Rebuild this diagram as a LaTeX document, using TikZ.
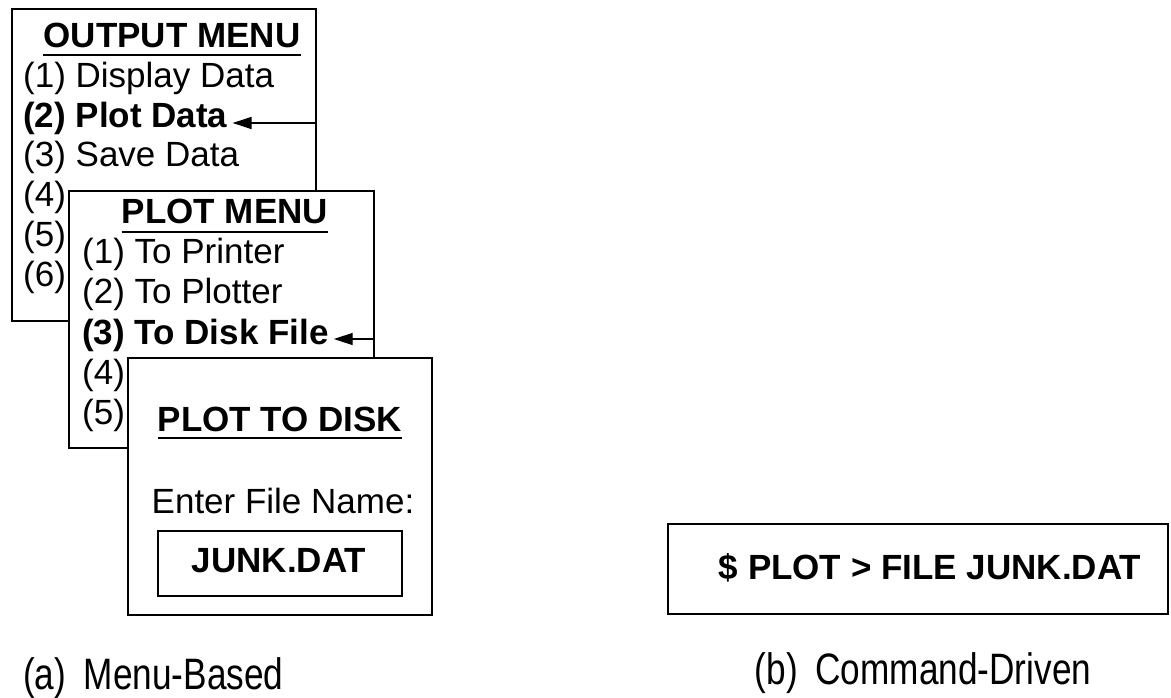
\documentclass[tikz,border=0pt]{standalone}
\usepackage{fontspec}
\setmainfont{Liberation Sans}
\usetikzlibrary{arrows.meta}
\newcommand*\menufont{\fontsize{35}{42}\selectfont}
\newcommand*\legendefont{\fontsize{44}{52}\selectfont}
\tikzset{
  fenetre/.style={draw, fill=white, line width=1.6pt, anchor=north west, inner sep=0pt},
  ligne/.style={anchor=base west, inner sep=0pt, font=\menufont},
  choix/.style={anchor=base west, inner sep=0pt, font=\menufont\bfseries},
  titre/.style={anchor=base, inner sep=0pt, font=\menufont\bfseries},
  souligne/.style={line width=1.6pt},
  fleche/.style={line width=1.4pt, -{Triangle[length=19pt,width=12pt]}},
  legende/.style={inner sep=0pt, font=\legendefont},
}

\begin{document}
\begin{tikzpicture}[x=1pt, y=-1pt]
    \useasboundingbox (0,0) rectangle (1171,698);

    % Menu de sortie
    \node[fenetre, minimum width=304pt, minimum height=312pt] (sortie) at (11,8) {};
    \node[titre] (titresortie) at (172,48) {OUTPUT MENU};
    \draw[souligne] ([yshift=-7pt]titresortie.base west) -- ([yshift=-7pt]titresortie.base east);
    \node[ligne] (s1) at (23,88) {(1) Display Data};
    \node[choix] (s2) at (23,128) {(2) Plot Data};
    \node[ligne] (s3) at (23,167) {(3) Save Data};
    \node[ligne] (s4) at (23,207) {(4)};
    \node[ligne] (s5) at (23,247) {(5)};
    \node[ligne] (s6) at (23,286) {(6)};
    \coordinate (choixs) at ([xshift=5pt,yshift=5pt]s2.base east);
    \draw[fleche] (sortie.east |- choixs) -- (choixs);

    % Menu de trace
    \node[fenetre, minimum width=305pt, minimum height=257pt] (trace) at (68,190) {};
    \node[titre] (titretrace) at (225,224) {PLOT MENU};
    \draw[souligne] ([yshift=-8pt]titretrace.base west) -- ([yshift=-8pt]titretrace.base east);
    \node[ligne] (t1) at (82,263) {(1) To Printer};
    \node[ligne] (t2) at (82,303) {(2) To Plotter};
    \node[choix] (t3) at (82,344) {(3) To Disk File};
    \node[ligne] (t4) at (82,384) {(4)};
    \node[ligne] (t5) at (82,424) {(5)};
    \coordinate (choixt) at ([xshift=5pt,yshift=5pt]t3.base east);
    \draw[fleche] (trace.east |- choixt) -- (choixt);

    % Fenetre d'enregistrement
    \node[fenetre, minimum width=304pt, minimum height=257pt] (disque) at (127,357) {};
    \node[titre] (titredisque) at (280,431) {PLOT TO DISK};
    \draw[souligne] ([yshift=-7pt]titredisque.base west) -- ([yshift=-7pt]titredisque.base east);
    \node[ligne, anchor=base] (invite) at (283,513) {Enter File Name:};
    \node[fenetre, minimum width=244pt, minimum height=65pt] (saisie) at (157,530) {};
    \node[titre] (nom) at (279,572) {JUNK.DAT};

    % Ligne de commande
    \node[fenetre, minimum width=500pt, minimum height=90pt] (commande) at (667,523) {};
    \node[titre] (cmd) at (930,579) {\$ PLOT > FILE JUNK.DAT};

    % Legendes
    \node[legende, anchor=base west] (lega) at (23,689) {\scalebox{0.8}[1]{(a)\hspace{0.5em}Menu-Based}};
    \node[legende, anchor=base] (legb) at (923,684) {\scalebox{0.8}[1]{(b)\hspace{0.5em}Command-Driven}};
\end{tikzpicture}
\end{document}
